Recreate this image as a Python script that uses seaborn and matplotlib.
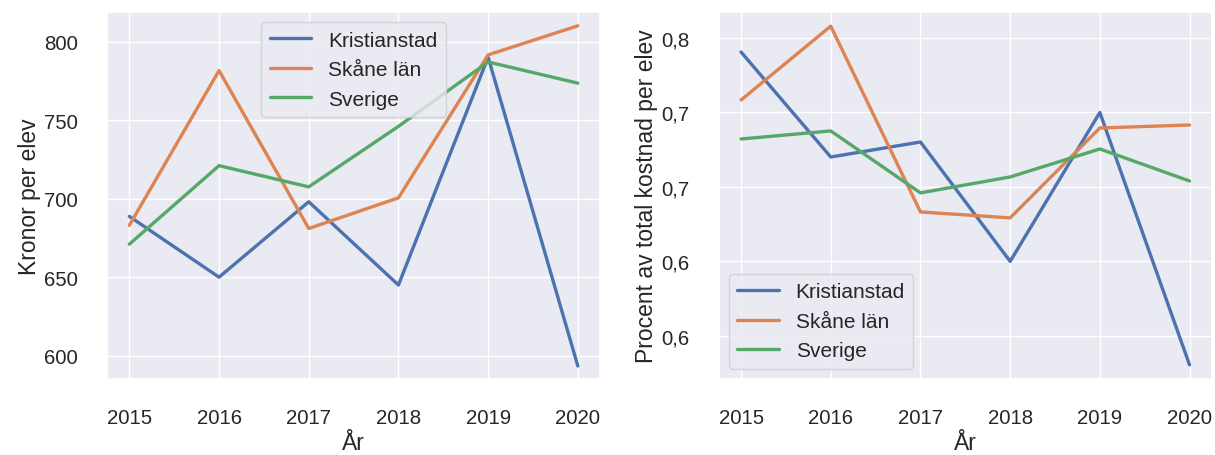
import matplotlib
matplotlib.use('Agg')
import matplotlib.pyplot as plt
import pandas as pd
import seaborn as sns

# Data
years = [2015, 2016, 2017, 2018, 2019, 2020]
regions = ['Kristianstad', 'Skåne län', 'Sverige']

kronor_kristianstad = [688.7, 650.0, 698.0, 645.0, 790.0, 593.5]
kronor_skane = [683.0, 781.5, 681.0, 700.5, 791.5, 810.0]
kronor_sverige = [671.0, 721.0, 707.5, 746.0, 787.0, 773.5]

procent_kristianstad = [0.7906, 0.7201, 0.7302, 0.6500, 0.7500, 0.5805]
procent_skane = [0.7584, 0.8080, 0.6832, 0.6792, 0.7396, 0.7416]
procent_sverige = [0.7322, 0.7376, 0.6960, 0.7067, 0.7255, 0.7040]

procent_ticks = [0.60, 0.65, 0.70, 0.75, 0.80]
procent_ticklabels = ['0,6', '0,6', '0,7', '0,7', '0,8']


def long_form(series):
    rows = []
    for region, values in zip(regions, series):
        for year, value in zip(years, values):
            rows.append({'År': year, 'region': region, 'value': value})
    return pd.DataFrame(rows)


def main():
    sns.set_theme(style='darkgrid')
    plt.rcParams['font.family'] = ['Liberation Sans', 'DejaVu Sans']

    kronor = long_form([kronor_kristianstad, kronor_skane, kronor_sverige])
    procent = long_form([procent_kristianstad, procent_skane, procent_sverige])

    fig, (ax1, ax2) = plt.subplots(1, 2, figsize=(12.15, 4.56), dpi=100)
    fig.subplots_adjust(left=0.088, right=0.9975, bottom=0.1667, top=0.9715, wspace=0.24)

    sns.lineplot(data=kronor, x='År', y='value', hue='region', ax=ax1, linewidth=2.4)
    ax1.set_ylabel('Kronor per elev', fontsize=16.5, labelpad=2)
    ax1.set_xlabel('År', fontsize=16.5, labelpad=3)
    ax1.set_ylim(585.2, 818.8)
    ax1.legend(loc='upper center', fontsize=15, title=None)

    sns.lineplot(data=procent, x='År', y='value', hue='region', ax=ax2, linewidth=2.4)
    ax2.set_ylabel('Procent av total kostnad per elev', fontsize=16.5, labelpad=2)
    ax2.set_xlabel('År', fontsize=16.5, labelpad=3)
    ax2.set_ylim(0.571, 0.8175)
    ax2.set_yticks(procent_ticks)
    ax2.set_yticklabels(procent_ticklabels)
    ax2.legend(loc='lower left', fontsize=15, title=None)

    for ax in (ax1, ax2):
        ax.set_xticks(years)
        ax.tick_params(labelsize=14.7, pad=15)

    fig.savefig('out.png', dpi=100)


if __name__ == '__main__':
    main()
